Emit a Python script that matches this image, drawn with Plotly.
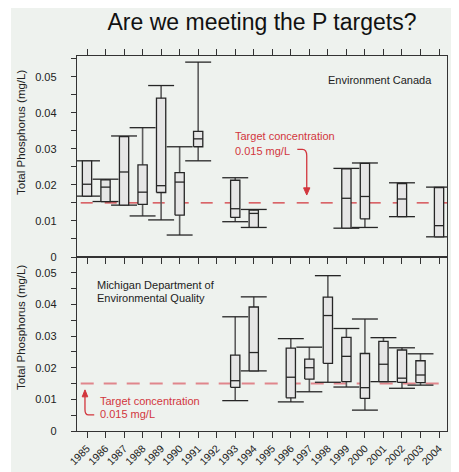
import plotly.graph_objects as go

# ---------------- data ----------------
years = list(range(1985, 2005))
year_labels = [str(y) for y in years]

# Environment Canada (top panel)
top_years = [1985, 1986, 1987, 1988, 1989, 1990, 1991, 1993, 1994, 1999, 2000, 2002, 2004]
top_low = [0.0169, 0.0154, 0.0144, 0.0114, 0.0103, 0.0061, 0.0267, 0.0098, 0.0082, 0.0080, 0.0082, 0.0112, 0.0056]
top_q1 = [0.0169, 0.0154, 0.0144, 0.0146, 0.0179, 0.0116, 0.0306, 0.0110, 0.0082, 0.0080, 0.0106, 0.0112, 0.0056]
top_med = [0.0202, 0.0194, 0.0236, 0.0180, 0.0198, 0.0208, 0.0328, 0.0134, 0.0121, 0.0163, 0.0168, 0.0161, 0.0087]
top_q3 = [0.0267, 0.0214, 0.0334, 0.0256, 0.0441, 0.0234, 0.0349, 0.0213, 0.0130, 0.0245, 0.0260, 0.0204, 0.0193]
top_high = [0.0267, 0.0216, 0.0336, 0.0359, 0.0476, 0.0306, 0.0541, 0.0220, 0.0132, 0.0246, 0.0261, 0.0206, 0.0194]

# Michigan Department of Environmental Quality (bottom panel)
bot_years = [1993, 1994, 1996, 1997, 1998, 1999, 2000, 2001, 2002, 2003]
bot_low = [0.0096, 0.0190, 0.0092, 0.0124, 0.0154, 0.0139, 0.0066, 0.0156, 0.0135, 0.0145]
bot_q1 = [0.0138, 0.0190, 0.0105, 0.0164, 0.0214, 0.0156, 0.0103, 0.0156, 0.0154, 0.0153]
bot_med = [0.0159, 0.0248, 0.0170, 0.0200, 0.0365, 0.0236, 0.0137, 0.0211, 0.0167, 0.0177]
bot_q3 = [0.0240, 0.0392, 0.0262, 0.0227, 0.0423, 0.0296, 0.0245, 0.0283, 0.0256, 0.0222]
bot_high = [0.0361, 0.0424, 0.0292, 0.0265, 0.0491, 0.0324, 0.0354, 0.0295, 0.0263, 0.0244]

target = 0.015

# ---------------- style ----------------
BG = "#eef2ee"
FONT = "Liberation Sans, Arial, Helvetica, sans-serif"
RED = "#d2363d"
PINK = "#e0868c"
AXC = "#333333"
BOX_FILL = "#e6e6e6"
BOX_LINE = "#262626"
WHISK = "#5c5c5c"

OFF = 8  # page body margin
W, H = 451, 464
L, R, T, B = 69, 12, 48, 41
PW, PH = W - L - R, H - T - B
split = (423 - 249) / PH


def px_x(px):
    return (px - OFF - L) / PW


def px_y(py):
    return (H - B - (py - OFF)) / PH


def box_traces(xs, low, q1, med, q3, high, xa, ya):
    hw, cw = 0.25, 0.7
    wx, wy, cx, cy, bx, by, mx, my = [], [], [], [], [], [], [], []
    for x, lo, a, m, b, hi in zip(xs, low, q1, med, q3, high):
        wx += [x, x, None]
        wy += [lo, hi, None]
        cx += [x - cw, x + cw, None, x - cw, x + cw, None]
        cy += [lo, lo, None, hi, hi, None]
        bx += [x - hw, x + hw, x + hw, x - hw, x - hw, None]
        by += [a, a, b, b, a, None]
        mx += [x - hw, x + hw, None]
        my += [m, m, None]
    common = dict(xaxis=xa, yaxis=ya, mode="lines", showlegend=False, hoverinfo="skip")
    return [
        go.Scatter(x=wx, y=wy, line=dict(color=WHISK, width=1.6), **common),
        go.Scatter(x=cx, y=cy, line=dict(color=BOX_LINE, width=1.3), **common),
        go.Scatter(x=bx, y=by, fill="toself", fillcolor=BOX_FILL,
                   line=dict(color=BOX_LINE, width=1.3), **common),
        go.Scatter(x=mx, y=my, line=dict(color=BOX_LINE, width=1.3), **common),
    ]


fig = go.Figure()
for tr in box_traces(top_years, top_low, top_q1, top_med, top_q3, top_high, "x", "y"):
    fig.add_trace(tr)
for tr in box_traces(bot_years, bot_low, bot_q1, bot_med, bot_q3, bot_high, "x2", "y2"):
    fig.add_trace(tr)

xrange = [1984.46, 2004.43]
tickfont = dict(family=FONT, size=11, color="#222")

fig.update_layout(
    width=W, height=H,
    margin=dict(l=L, r=R, t=T, b=B),
    paper_bgcolor="white",
    plot_bgcolor="rgba(0,0,0,0)",
    font=dict(family=FONT, color="#222"),
    template="none",
    title=dict(text="Are we meeting the P targets?", x=0.5, xref="paper",
               y=1 - (22 - OFF) / H, yref="container", yanchor="middle", xanchor="center",
               font=dict(family=FONT, size=23, color="#111")),
    xaxis=dict(domain=[0, 1], anchor="y", range=xrange, tickvals=years, ticktext=year_labels,
               showticklabels=False, ticks="outside", ticklen=6, tickcolor=AXC, tickwidth=1.2,
               showline=True, linecolor=AXC, linewidth=1.4, mirror="allticks",
               showgrid=False, zeroline=False, automargin=False),
    yaxis=dict(domain=[split, 1], anchor="x", range=[0, 0.0558], dtick=0.01, tick0=0,
               ticks="outside", ticklen=5, tickcolor=AXC, tickwidth=1.2,
               minor=dict(dtick=0.005, tick0=0, ticks="outside", ticklen=5, tickcolor=AXC, tickwidth=1.2, showgrid=False),
               tickfont=tickfont, ticklabelstandoff=12,
               showline=True, linecolor=AXC, linewidth=1.4, mirror=True,
               showgrid=False, zeroline=False, automargin=False),
    xaxis2=dict(domain=[0, 1], anchor="y2", range=xrange, tickvals=years, ticktext=year_labels,
                tickangle=-45, tickfont=dict(family=FONT, size=10.5, color="#222"),
                ticks="outside", ticklen=6, tickcolor=AXC, tickwidth=1.2,
                showline=True, linecolor=AXC, linewidth=1.4, mirror=True,
                showgrid=False, zeroline=False, automargin=False),
    yaxis2=dict(domain=[0, split], anchor="x2", range=[0, 0.055], dtick=0.01, tick0=0,
                ticks="outside", ticklen=5, tickcolor=AXC, tickwidth=1.2,
                minor=dict(dtick=0.005, tick0=0, ticks="outside", ticklen=5, tickcolor=AXC, tickwidth=1.2, showgrid=False),
                tickfont=tickfont, ticklabelstandoff=12,
                showline=True, linecolor=AXC, linewidth=1.4, mirror=True,
                showgrid=False, zeroline=False, automargin=False),
)

shapes = [
    # page background
    dict(type="rect", xref="paper", yref="paper", x0=px_x(11), x1=px_x(W + OFF + 5),
         y0=px_y(H + OFF + 5), y1=px_y(8), fillcolor=BG, line=dict(width=0), layer="below"),
    # target lines
    dict(type="line", xref="x", yref="y", x0=xrange[0] + 0.2, x1=xrange[1], y0=target, y1=target,
         line=dict(color=RED, width=1.3, dash="12px,12px"), layer="below"),
    dict(type="line", xref="x2", yref="y2", x0=xrange[0] + 0.2, x1=xrange[1], y0=target, y1=target,
         line=dict(color=PINK, width=2, dash="13px,10px"), layer="below"),
    # top arrow
    dict(type="path", xref="x", yref="y",
         path="M 1996.35,0.0299 L 1996.62,0.0299 Q 1996.86,0.0299 1996.86,0.0281 L 1996.86,0.0190",
         line=dict(color=RED, width=1.3)),
    dict(type="path", xref="x", yref="y",
         path="M 1996.69,0.0192 L 1997.03,0.0192 L 1996.86,0.0172 Z",
         fillcolor=RED, line=dict(color=RED, width=1)),
    # bottom arrow
    dict(type="path", xref="x2", yref="y2",
         path="M 1985.39,0.0051 L 1985.08,0.0051 Q 1984.89,0.0051 1984.89,0.0068 L 1984.89,0.0110",
         line=dict(color=RED, width=1.3)),
    dict(type="path", xref="x2", yref="y2",
         path="M 1984.74,0.0108 L 1985.04,0.0108 L 1984.89,0.0130 Z",
         fillcolor=RED, line=dict(color=RED, width=1)),
]
fig.update_layout(shapes=shapes)

ann_font = dict(family=FONT, size=11, color="#222")
red_font = dict(family=FONT, size=11, color=RED)
annotations = [
    dict(text="Environment Canada", xref="x", yref="y", x=2003.75, y=0.0492,
         xanchor="right", yanchor="middle", showarrow=False, font=ann_font),
    dict(text="Target concentration", xref="x", yref="y", x=1992.88, y=0.0337,
         xanchor="left", yanchor="middle", showarrow=False, font=red_font),
    dict(text="0.015 mg/L", xref="x", yref="y", x=1992.88, y=0.0295,
         xanchor="left", yanchor="middle", showarrow=False, font=red_font),
    dict(text="Michigan Department of", xref="x2", yref="y2", x=1985.43, y=0.0462,
         xanchor="left", yanchor="middle", showarrow=False, font=ann_font),
    dict(text="Environmental Quality", xref="x2", yref="y2", x=1985.43, y=0.0420,
         xanchor="left", yanchor="middle", showarrow=False, font=ann_font),
    dict(text="Target concentration", xref="x2", yref="y2", x=1985.58, y=0.0096,
         xanchor="left", yanchor="middle", showarrow=False, font=red_font),
    dict(text="0.015 mg/L", xref="x2", yref="y2", x=1985.58, y=0.0054,
         xanchor="left", yanchor="middle", showarrow=False, font=red_font),
    dict(text="Total Phosphorus (mg/L)", xref="paper", yref="paper", x=px_x(21), y=px_y(133),
         textangle=-90, xanchor="center", yanchor="middle", showarrow=False,
         font=dict(family=FONT, size=11.5, color="#222")),
    dict(text="Total Phosphorus (mg/L)", xref="paper", yref="paper", x=px_x(21), y=px_y(328),
         textangle=-90, xanchor="center", yanchor="middle", showarrow=False,
         font=dict(family=FONT, size=11.5, color="#222")),
]
fig.update_layout(annotations=annotations)

fig.write_html("out.html")
